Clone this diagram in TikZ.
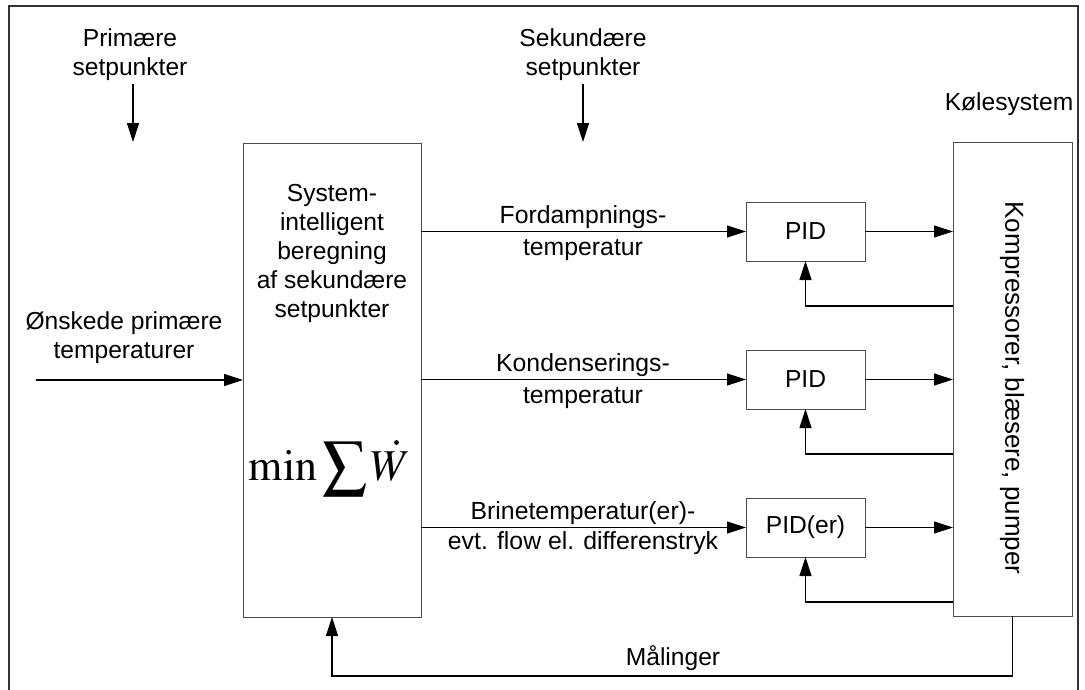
\documentclass[tikz,border=0pt]{standalone}
\usepackage{mathptmx}
\usepackage[no-math]{fontspec}
\setmainfont{Liberation Sans}
\usetikzlibrary{arrows.meta}

\begin{document}
\begin{tikzpicture}[x=1pt,y=-1pt,
  box/.style={draw=black!70, line width=1pt, inner sep=0pt, outer sep=0pt},
  lbl/.style={font=\fontsize{24.6}{29}\selectfont, align=center, inner sep=0pt},
  lbltwo/.style={font=\fontsize{24.8}{31.5}\selectfont, align=center, inner sep=0pt},
  formula/.style={font=\fontsize{44}{50}\selectfont, inner sep=0pt, anchor=base},
  flow/.style={line width=1.2pt, -{Triangle[length=19pt,width=12pt]}},
  frame/.style={line width=1.5pt, draw=black!80}]
\useasboundingbox (0,0) rectangle (1085,689);

% outer frame
\draw[frame] (9,700) -- (9,6) -- (1078,6) -- (1078,700);

% blocks
\node[box, minimum width=178pt, minimum height=474pt] (calc) at (332,380) {};
\node[box, minimum width=119pt, minimum height=474pt] (kol) at (1012.5,379) {};
\node[box, minimum width=119pt, minimum height=59pt] (pid1) at (805.5,231.5) {};
\node[box, minimum width=119pt, minimum height=59pt] (pid2) at (805.5,379.5) {};
\node[box, minimum width=119pt, minimum height=59pt] (pid3) at (805.5,527.5) {};

% block texts
\node[lbl] (calctxt) at (332,253) {System-\\intelligent\\beregning\\af sekundære\\setpunkter};
% objective: min sum of W-dot (time derivative dot drawn as a filled circle)
\node[formula] (objmin) at (283,480) {$\min$};
\node[formula] (objsum) at (345,480) {$\displaystyle\sum$};
\node[formula] (objw) at (391,480) {$W$};
\fill (396.5,442.5) circle (2.4pt);
\node[lbl] (pidtxt1) at (pid1) {PID};
\node[lbl] (pidtxt2) at (pid2) {PID};
\node[lbl] (pidtxt3) at (pid3) {PID(er)};
\node[lbl, font=\fontsize{26}{30}\selectfont, rotate=-90] (koltxt) at (1012,388) {Kompressorer, blæsere, pumper};
\node[lbl] (kolname) at (1009,104) {Kølesystem};

% setpoint inputs
\node[lbl] (primtxt) at (130,55) {Primære\\setpunkter};
\node[lbl] (sektxt) at (583,55) {Sekundære\\setpunkter};
\coordinate (ps) at (133,84);
\coordinate (pe) at (133,142);
\coordinate (ss) at (583,84);
\coordinate (se) at (583,142);
\draw[flow] (ps) -- (pe);
\draw[flow] (ss) -- (se);

% desired temperatures
\node[lbl] (onsk) at (124,338) {Ønskede primære\\temperaturer};
\coordinate (inL) at (36,380);
\draw[flow] (inL) -- (inL -| calc.west);

% secondary setpoints to the controllers
\draw[flow] (calc.east |- pid1) -- (pid1.west);
\draw[flow] (calc.east |- pid2) -- (pid2.west);
\draw[flow] (calc.east |- pid3) -- (pid3.west);
\node[lbltwo] (l1) at (583,233) {Fordampnings-\\temperatur};
\node[lbltwo] (l2) at (583,381) {Kondenserings-\\temperatur};
\node[lbltwo, font=\fontsize{24.8}{30}\selectfont] (l3) at (583,528) {Brinetemperatur(er)-\\evt. flow el. differenstryk};

% controller outputs
\draw[flow] (pid1.east) -- (pid1 -| kol.west);
\draw[flow] (pid2.east) -- (pid2 -| kol.west);
\draw[flow] (pid3.east) -- (pid3 -| kol.west);

% feedback loops
\coordinate (fb1) at (805.5,306);
\coordinate (fb2) at (805.5,454);
\coordinate (fb3) at (805.5,602);
\draw[flow] (fb1 -| kol.west) -- (fb1) -- (pid1.south);
\draw[flow] (fb2 -| kol.west) -- (fb2) -- (pid2.south);
\draw[flow] (fb3 -| kol.west) -- (fb3) -- (pid3.south);

% measurements back to the optimiser
\coordinate (mline) at (0,676);
\draw[flow] (kol.south) -- (kol.south |- mline) -- (calc.south |- mline) -- (calc.south);
\node[lbl] (maal) at (673,658) {Målinger};
\end{tikzpicture}
\end{document}
